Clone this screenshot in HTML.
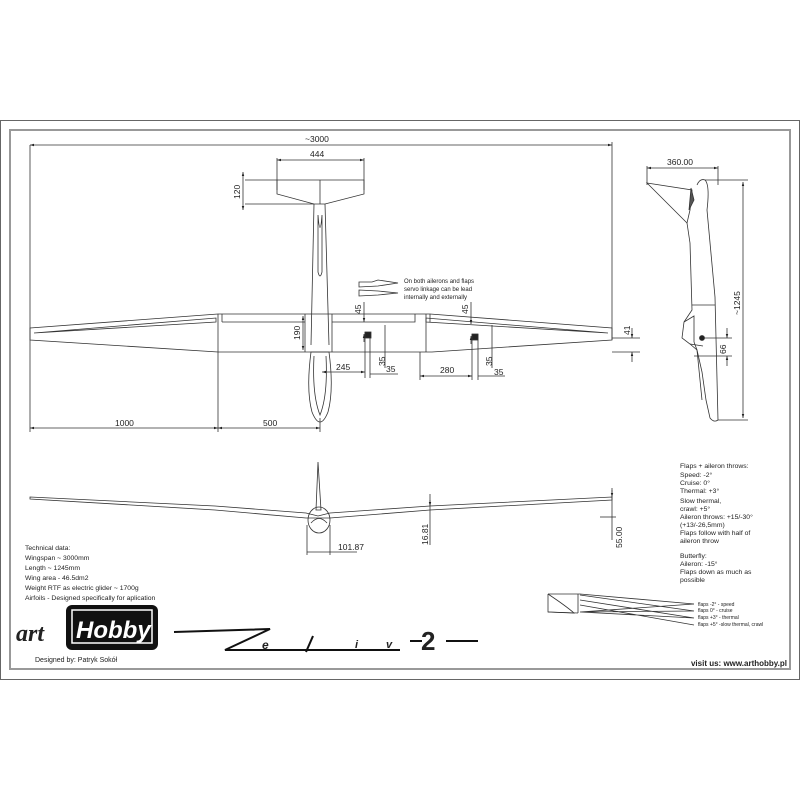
<!DOCTYPE html>
<html><head><meta charset="utf-8"><style>
html,body{margin:0;padding:0;background:#fff;width:800px;height:800px;overflow:hidden}
svg{display:block}
text{font-family:"Liberation Sans",sans-serif;fill:#222}
</style></head><body>
<svg width="800" height="800" viewBox="0 0 800 800" xmlns="http://www.w3.org/2000/svg">
<defs>
<marker id="a" viewBox="0 0 10 10" refX="10" refY="5" markerWidth="5" markerHeight="5" orient="auto-start-reverse"><path d="M0,2 L10,5 L0,8z" fill="#222"/></marker>
</defs>
<rect x="0.5" y="120.5" width="799" height="559" fill="none" stroke="#666" stroke-width="1"/>
<rect x="10" y="130" width="780" height="539" fill="none" stroke="#999" stroke-width="2"/>

<g stroke="#333" stroke-width="0.8" fill="none">
<!-- top view -->
<line x1="30" y1="145" x2="612" y2="145" marker-start="url(#a)" marker-end="url(#a)"/>
<line x1="30" y1="145" x2="30" y2="432"/>
<line x1="612" y1="142" x2="612" y2="340"/>
<line x1="277" y1="160" x2="364" y2="160" marker-start="url(#a)" marker-end="url(#a)"/>
<line x1="277" y1="158" x2="277" y2="190"/><line x1="364" y1="158" x2="364" y2="190"/>
<path d="M277,180 L364,180 L364,194 L325,204 L314,204 L277,194 Z"/>
<line x1="245" y1="180" x2="277" y2="180"/><line x1="245" y1="204" x2="314" y2="204"/>
<line x1="243" y1="172" x2="243" y2="210" marker-start="url(#a)" marker-end="url(#a)"/>
<line x1="320" y1="180" x2="320" y2="204"/>
<path d="M314,204 L311,345 M325,204 L329,345"/>
<path d="M318,215 Q320,240 322,215 L322,272 Q320,280 318,272Z"/>
<!-- wing -->
<path d="M30,328 L218,314 L430,314 L612,328 L612,340 L432,352 L218,352 L30,340 Z"/>
<path d="M34,333 L216,322 L216,318 Z" />
<path d="M426,318 L426,322 L608,333 Z"/>
<line x1="218" y1="314" x2="218" y2="352"/><line x1="222" y1="314" x2="222" y2="322"/>
<line x1="426" y1="314" x2="426" y2="352"/><line x1="430" y1="314" x2="430" y2="322"/>
<path d="M222,322 L305,322 M332,322 L415,322 L415,314"/>
<line x1="305" y1="314" x2="305" y2="352"/><line x1="332" y1="314" x2="332" y2="352"/>
<line x1="612" y1="338" x2="640" y2="338"/><line x1="612" y1="352" x2="640" y2="352"/>
<line x1="632" y1="328" x2="632" y2="338" marker-end="url(#a)"/><line x1="632" y1="362" x2="632" y2="352" marker-end="url(#a)"/>
<!-- pod -->
<path d="M311,352 Q306,390 312,412 Q320,432 328,412 Q334,390 329,352 Z"/>
<path d="M314,356 Q312,395 320,415 Q328,395 326,356"/>
<line x1="303" y1="316" x2="303" y2="350" marker-start="url(#a)" marker-end="url(#a)"/>
<!-- dims bottom -->
<line x1="30" y1="428" x2="218" y2="428" marker-start="url(#a)" marker-end="url(#a)"/>
<line x1="218" y1="428" x2="320" y2="428" marker-start="url(#a)" marker-end="url(#a)"/>
<line x1="218" y1="352" x2="218" y2="432"/><line x1="320" y1="418" x2="320" y2="432"/>
<line x1="322" y1="372" x2="365" y2="372" marker-start="url(#a)" marker-end="url(#a)"/>
<line x1="365" y1="332" x2="365" y2="378"/><line x1="370" y1="332" x2="370" y2="378"/>
<line x1="370" y1="374" x2="398" y2="374"/>
<rect x="365" y="332" width="6" height="6" fill="#222"/>
<line x1="364" y1="302" x2="364" y2="322" marker-end="url(#a)"/>
<line x1="364" y1="342" x2="364" y2="334" marker-end="url(#a)"/>
<line x1="385" y1="325" x2="385" y2="368"/>
<line x1="420" y1="352" x2="420" y2="380"/>
<line x1="420" y1="376" x2="472" y2="376" marker-start="url(#a)" marker-end="url(#a)"/>
<line x1="472" y1="334" x2="472" y2="380"/><line x1="478" y1="334" x2="478" y2="380"/>
<line x1="478" y1="376" x2="505" y2="376"/>
<rect x="472" y="334" width="6" height="6" fill="#222"/>
<line x1="471" y1="302" x2="471" y2="324" marker-end="url(#a)"/>
<line x1="471" y1="344" x2="471" y2="336" marker-end="url(#a)"/>
<line x1="492" y1="325" x2="492" y2="368"/>
<!-- note icons -->
<path d="M359,282 L372,282 L378,280 L398,283 L378,286 L359,287Z"/>
<path d="M359,290 L378,291 L398,293 L378,295 L359,296Z"/>

<!-- side view -->
<line x1="647" y1="168" x2="718" y2="168" marker-start="url(#a)" marker-end="url(#a)"/>
<line x1="647" y1="166" x2="647" y2="185"/><line x1="718" y1="166" x2="718" y2="185"/>
<path d="M647,183 L692,190 L690,210 L687,223 Z"/>
<path d="M687,223 L690,243 L692,310 L688,316 L684,322 L682,338 L690,344 L697,350 L702,372 L706,400 L710,418 Q714,423 718,420"/>
<path d="M697,185 Q700,178 705,180 Q710,185 707,210 L715,297 L718,420"/>
<path d="M692,305 L715,305"/>
<path d="M684,322 L694,316 L694,342 M690,344 L703,346"/>
<path d="M694,342 L697,350 L702,400"/>
<path d="M691,188 L689,210 L694,200Z" fill="#555"/>
<circle cx="702" cy="338" r="2.5" fill="#222"/>
<line x1="705" y1="180" x2="748" y2="180"/><line x1="718" y1="420" x2="748" y2="420"/>
<line x1="743" y1="182" x2="743" y2="418" marker-start="url(#a)" marker-end="url(#a)"/>
<line x1="704" y1="338" x2="732" y2="338"/><line x1="694" y1="356" x2="732" y2="356"/>
<line x1="727" y1="328" x2="727" y2="338" marker-end="url(#a)"/><line x1="727" y1="366" x2="727" y2="356" marker-end="url(#a)"/>

<!-- front view -->
<path d="M30,497 L215,506 L306,513 L318,516 L330,513 L430,506 L612,497 L612,500 L430,510 L330,518 L306,518 L215,510 L30,499 Z"/>
<path d="M318,462 L316,510 L321,510 Z"/>
<ellipse cx="319" cy="520" rx="11" ry="13"/>
<path d="M311,523 Q319,514 327,523"/>
<line x1="307" y1="525" x2="307" y2="555"/><line x1="330" y1="525" x2="330" y2="555"/>
<line x1="307" y1="552" x2="357" y2="552"/>
<line x1="430" y1="500" x2="430" y2="545"/>
<line x1="430" y1="494" x2="430" y2="506" marker-end="url(#a)"/>
<line x1="612" y1="490" x2="612" y2="540"/>
<line x1="612" y1="488" x2="612" y2="497" marker-end="url(#a)"/>
<line x1="600" y1="517" x2="616" y2="517"/>

<!-- flap diagram -->
<path d="M548,594 L548,612 L574,613 Q566,606 548,594"/>
<path d="M548,594 L580,594 L694,604 M578,594 L578,613 M548,612 L578,613"/>
<path d="M580,595 L694,611 M580,600 L694,618 M580,605 L694,625 M580,612 L694,604 M580,612 L694,611 M580,612 L694,618"/>
</g>

<g font-size="8.5">
<text x="305" y="142">~3000</text>
<text x="310" y="157">444</text>
<text transform="translate(240,199) rotate(-90)">120</text>
<text transform="translate(300,340) rotate(-90)">190</text>
<text transform="translate(361,314) rotate(-90)">45</text>
<text transform="translate(468,314) rotate(-90)">45</text>
<text transform="translate(385,366) rotate(-90)">35</text>
<text transform="translate(492,366) rotate(-90)">35</text>
<text x="336" y="370">245</text>
<text x="386" y="372">35</text>
<text x="440" y="373">280</text>
<text x="494" y="375">35</text>
<text transform="translate(630,335) rotate(-90)">41</text>
<text x="115" y="426">1000</text>
<text x="263" y="426">500</text>
<text x="667" y="165">360.00</text>
<text transform="translate(740,315) rotate(-90)">~1245</text>
<text transform="translate(726,354) rotate(-90)">66</text>
<text x="338" y="550">101.87</text>
<text transform="translate(428,545) rotate(-90)">16.81</text>
<text transform="translate(622,548) rotate(-90)">55.00</text>
</g>
<g font-size="6">
<text x="404" y="283">On both ailerons and flaps</text>
<text x="404" y="291">servo linkage can be lead</text>
<text x="404" y="299">internally and externally</text>
</g>
<g font-size="6.8">
<text x="25" y="550">Technical data:</text>
<text x="25" y="560">Wingspan ~ 3000mm</text>
<text x="25" y="570">Length ~ 1245mm</text>
<text x="25" y="580">Wing area - 46.5dm2</text>
<text x="25" y="590">Weight RTF as electric glider  ~ 1700g</text>
<text x="25" y="600">Airfoils - Designed specifically for aplication</text>
<text x="680" y="468">Flaps + aileron throws:</text>
<text x="680" y="477">Speed: -2°</text>
<text x="680" y="485">Cruise: 0°</text>
<text x="680" y="493">Thermal: +3°</text>
<text x="680" y="503">Slow thermal,</text>
<text x="680" y="511">crawl: +5°</text>
<text x="680" y="519">Aileron throws: +15/-30°</text>
<text x="680" y="527">(+13/-26,5mm)</text>
<text x="680" y="535">Flaps follow with half of</text>
<text x="680" y="543">aileron throw</text>
<text x="680" y="558">Butterfly:</text>
<text x="680" y="566">Aileron: -15°</text>
<text x="680" y="574">Flaps down as much as</text>
<text x="680" y="582">possible</text>
</g>
<g font-size="5">
<text x="698" y="606">flaps -2° - speed</text>
<text x="698" y="612">flaps 0° - cruise</text>
<text x="698" y="619">flaps +3° - thermal</text>
<text x="698" y="626">flaps +5° -slow thermal, crawl</text>
</g>
<!-- logo -->
<text x="16" y="641" font-size="24" font-style="italic" font-weight="bold" style="font-family:'Liberation Serif',serif">art</text>
<rect x="66" y="605" width="92" height="45" rx="6" fill="#111"/>
<rect x="72" y="610" width="80" height="33" fill="none" stroke="#fff" stroke-width="1.5"/>
<text x="76" y="638" font-size="24" font-style="italic" font-weight="bold" style="fill:#fff">Hobby</text>
<text x="35" y="662" font-size="7">Designed by: Patryk Sokół</text>
<!-- Zefir -->
<g stroke="#111" stroke-width="2" fill="none">
<path d="M174,632 L270,629 L225,650 L400,650"/>
<path d="M410,641 L422,641 M446,641 L478,641"/>
<path d="M313,636 L306,652"/>
</g>
<text x="262" y="649" font-size="12" font-style="italic" font-weight="bold">e</text>
<text x="355" y="648" font-size="11" font-style="italic" font-weight="bold">i</text>
<text x="386" y="648" font-size="11" font-style="italic" font-weight="bold">v</text>
<text x="421" y="650" font-size="26" font-weight="bold">2</text>
<text x="787" y="666" font-size="8" font-weight="bold" text-anchor="end">visit us: www.arthobby.pl</text>
</svg>
</body></html>
